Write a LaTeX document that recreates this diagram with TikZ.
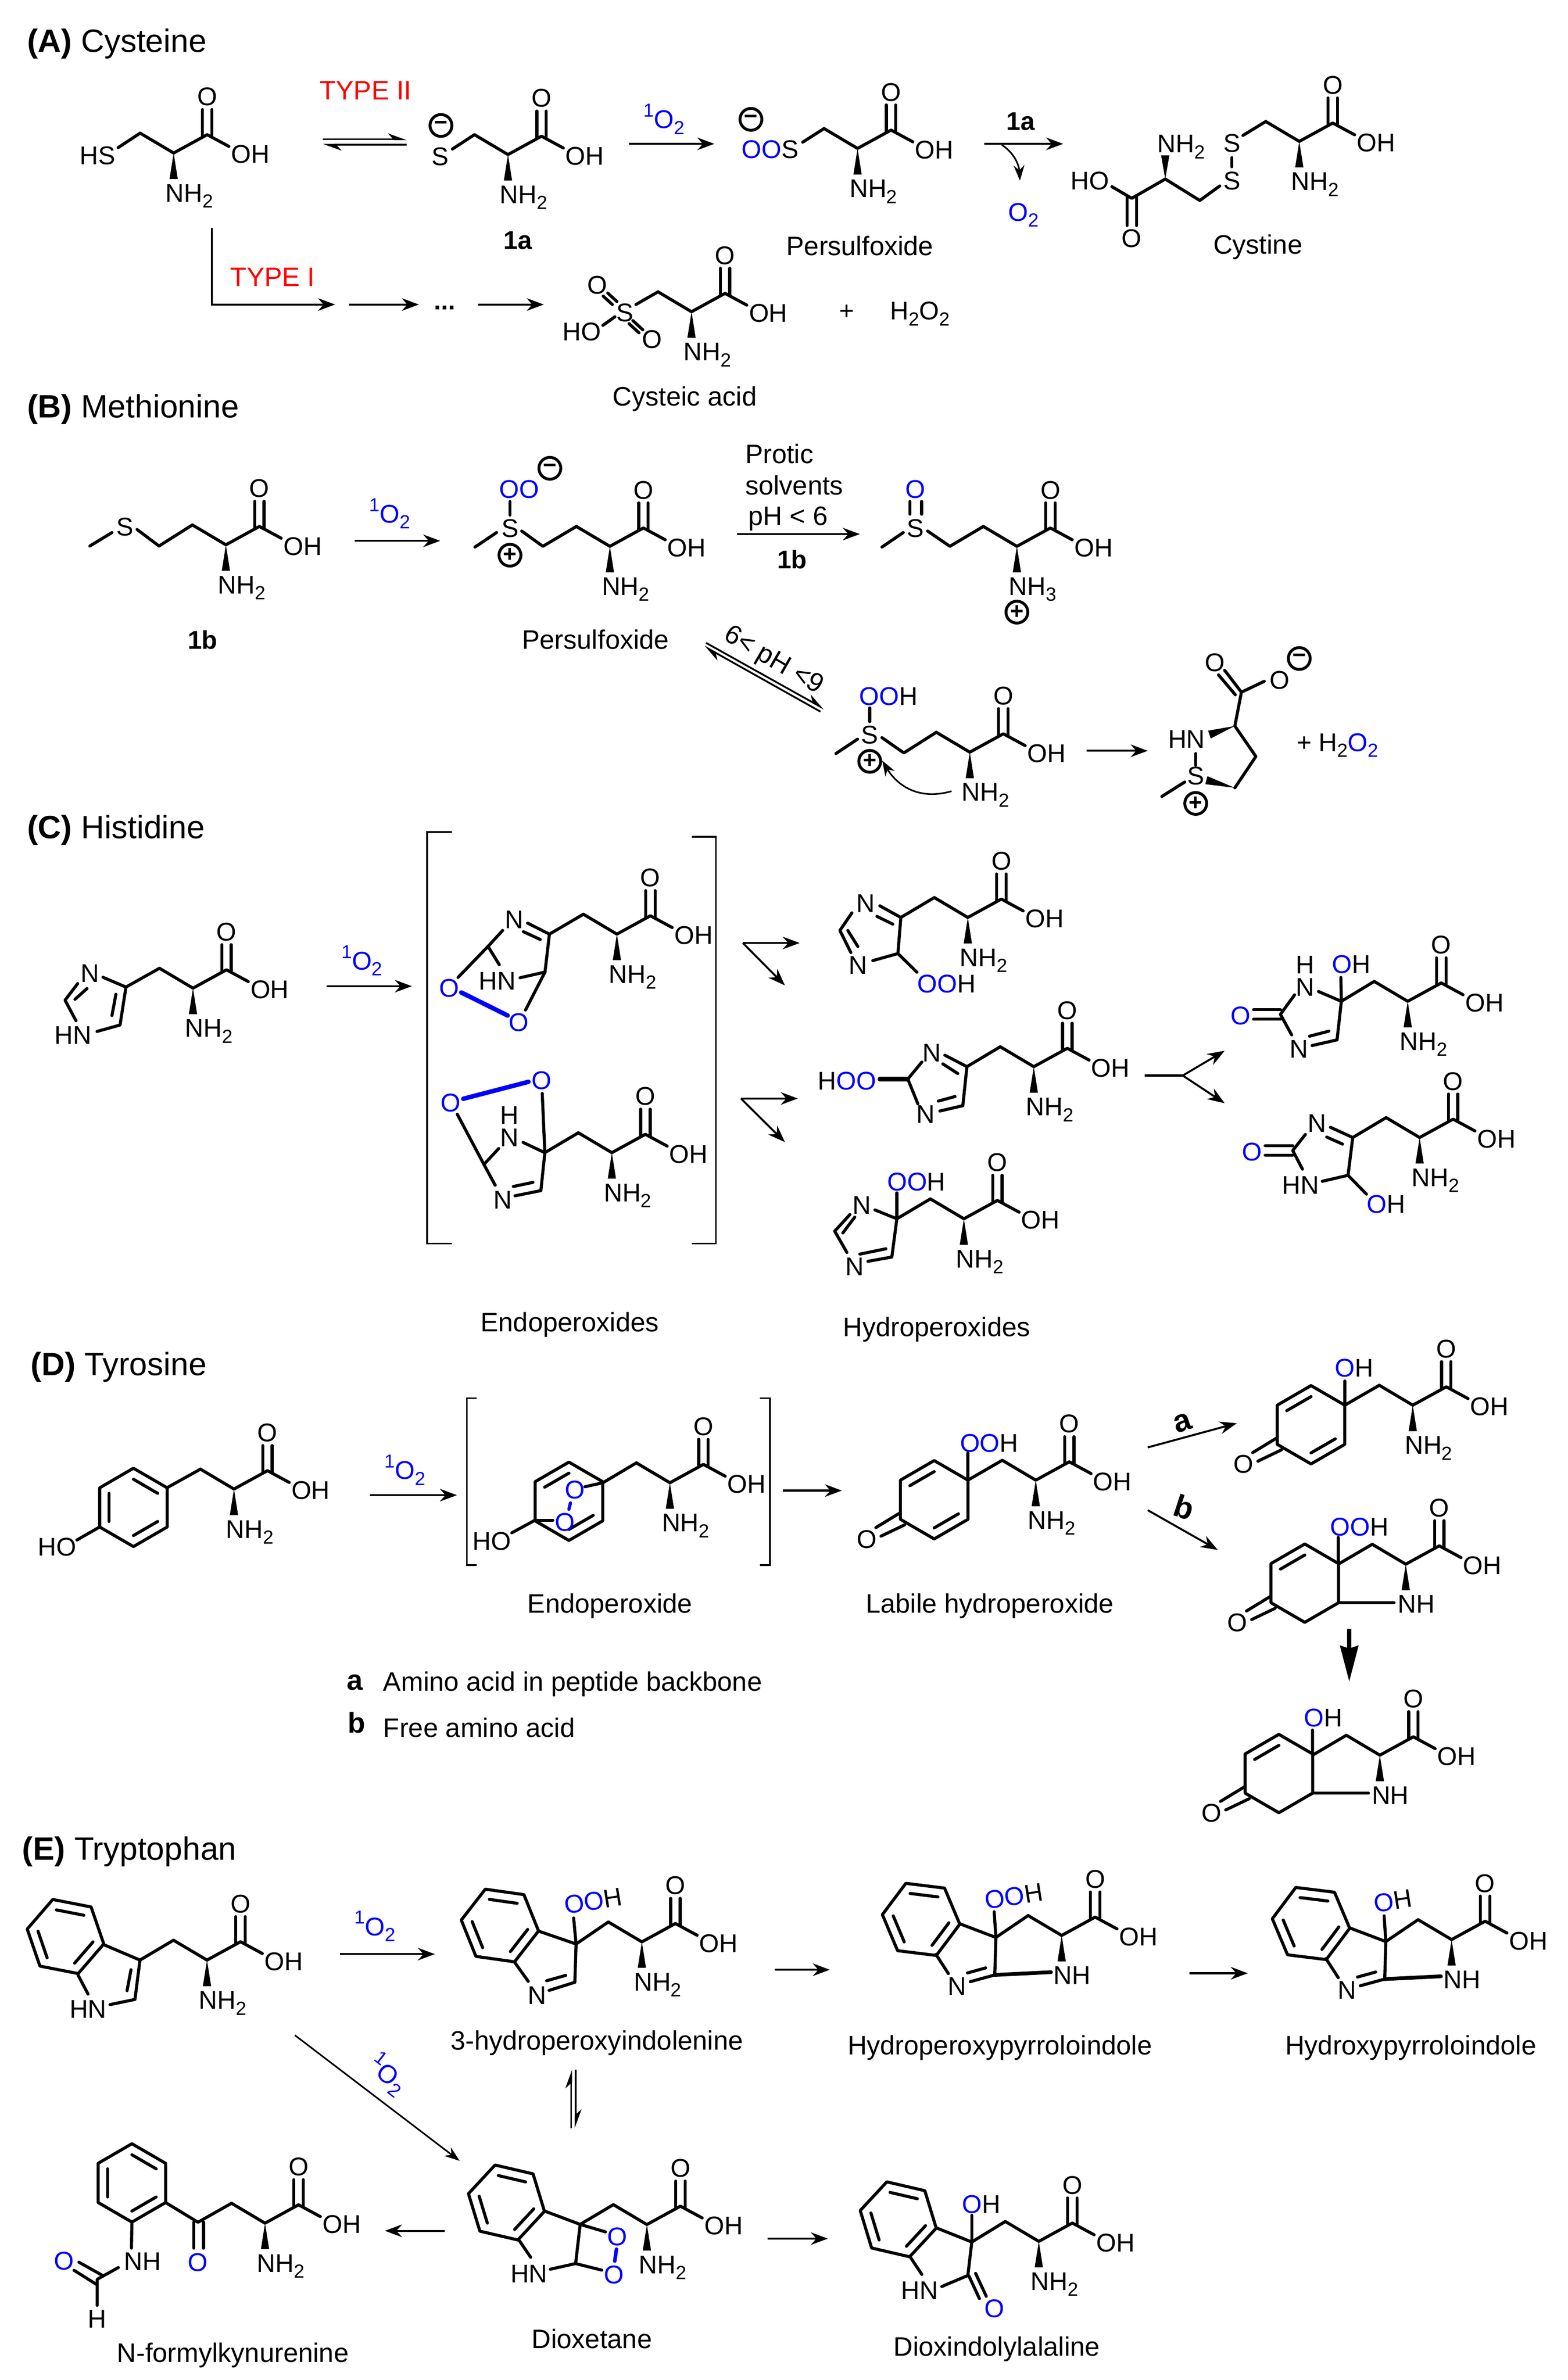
\documentclass[tikz,border=0pt]{standalone}
\usepackage{fontspec}
\setmainfont{Liberation Sans}
\usetikzlibrary{arrows.meta,calc}

\definecolor{oxy}{RGB}{0,0,255}
\newcommand{\ob}[1]{\textcolor{oxy}{#1}}
\newcommand{\subs}[1]{\raisebox{-.23em}{\fontsize{10.6}{12}\selectfont #1}}
\newcommand{\sing}{\ob{\raisebox{.45em}{\fontsize{10.5}{12}\selectfont 1}O\subs{2}}}

\tikzset{
  bond/.style={line width=1.7pt,line cap=round,line join=round},
  obond/.style={line width=2.5pt,line cap=round,color=oxy},
  brk/.style={line width=1pt},
  rxn/.style={line width=1.1pt,-{Stealth[length=9.5pt,width=7pt]}},
  thinrxn/.style={line width=.9pt,-{Stealth[length=8.5pt,width=6pt]}},
  harp/.style={line width=1pt,-{Stealth[length=9pt,width=6.5pt,harpoon]}},
  atom/.style={inner sep=0pt,text height=10.2pt,text depth=0pt,font=\fontsize{14.3}{16}\selectfont},
  boldatom/.style={atom,font=\fontsize{14.3}{16}\bfseries\selectfont},
  molname/.style={inner sep=0pt,text height=10.6pt,text depth=0pt,font=\fontsize{14.9}{17}\selectfont},
  head/.style={inner sep=0pt,anchor=west,text height=12.8pt,text depth=0pt,font=\fontsize{18}{20}\selectfont},
  charge/.style={circle,draw,inner sep=0pt,minimum size=12.2pt,line width=1.6pt,font=\fontsize{13}{13}\bfseries\selectfont},
}

% narrow end first
\newcommand{\stereo}[2]{\fill (#1) -- ($(#2)!2.3pt!90:(#1)$) -- ($(#2)!2.3pt!-90:(#1)$) -- cycle;}

% amino acid tail, placed at the alpha carbon
\newcommand{\aacid}[4][NH\subs{2}]{%
  \begin{scope}[shift={(#3,#4)}]
    \coordinate (#2) at (0,0);
    \coordinate (#2b) at (-22,-13);
    \coordinate (#2c) at (22,-12);
    \draw[bond] (#2b) -- (#2) -- (#2c) -- (36.3,-4.3);
    \draw[bond] (18.9,-28.4) -- (18.9,-11);
    \draw[bond] (25.1,-28.4) -- (25.1,-11);
    \stereo{0,0}{0,17}
    \node[atom] (#2o) at (22,-37) {O};
    \node[atom,anchor=west] (#2oh) at (37.5,.7) {OH};
    \node[atom,anchor=west] (#2n) at (-5.5,26) {#1};
  \end{scope}}

% six-membered ring: centre, first vertex angle, inner double bonds
\newcommand{\hexring}[4]{%
  \begin{scope}[shift={(#1,#2)}]
    \draw[bond] (#3:25.6) \foreach \k in {1,...,5} { -- ({#3+\k*60}:25.6)} -- cycle;
    \foreach \k in {#4} {\draw[bond] ({#3+\k*60}:18.4) -- ({#3+\k*60+60}:18.4);}
  \end{scope}}

% same ring with the ketone at the lower left
\newcommand{\ketring}[4]{%
  \hexring{#2}{#3}{-90}{#4}
  \begin{scope}[shift={(#2,#3)}]
    \draw[bond] (-22.3,8.5) -- (-38.3,18.2);
    \draw[bond] (-19.4,16.4) -- (-34.9,23.8);
    \node[atom] (#1) at (-44.2,25.6) {O};
  \end{scope}}

% fused indole of panel E
\newcommand{\pyrrolo}[3]{%
  \begin{scope}[shift={(#2,#3)}]
    \hexring{604.7}{1254.2}{-113}{0,2,4}
    \aacid[NH]{#1}{697}{1264.7}
    \draw[bond] (#1b) -- (653.8,1266) -- (630.2,1257.1);
    \draw[bond] (614.5,1277.1) -- (622.6,1289.6);
    \node[atom] (#1r) at (628.4,1297.6) {N};
    \draw[bond] (637,1294.9) -- (653.1,1290.5) -- (653.8,1266) -- (652.7,1249.2);
    \draw[bond] (635.2,1289.2) -- (647.1,1285.9);
    \draw[bond,line width=2.1pt] (653.1,1290.5) -- (690,1288.7);
  \end{scope}}

\begin{document}
\begin{tikzpicture}[x=.2985mm,y=-.3mm]
\useasboundingbox (0,0) rectangle (1029.15,1555.2);

% (A) Cysteine
\node[head] (heada) at (17.7,26.5) {\textbf{(A)} Cysteine};
\aacid{aa}{114}{100}
\draw[bond] (aab) -- (77.5,96.5);
\node[atom] (aas) at (64,101.5) {HS};

\aacid{ab}{333.5}{101}
\draw[bond] (abb) -- (297,97.4);
\node[atom] (abs) at (289,102) {S};
\node[charge] (abm) at (289.5,82) {−};
\node[boldatom] (abl) at (340,157) {1a};

\aacid{ac}{563}{97}
\draw[bond] (acb) -- (527,92.9);
\node[atom,anchor=east] (acs) at (524.5,97.4) {\ob{OO}S};
\node[charge] (acm) at (493,78) {−};
\node[molname] (acl) at (564.5,160.8) {Persulfoxide};

\aacid{ad}{853}{92.4}
\draw[bond] (adb) -- (816,88.5);
\node[atom] (ads) at (808.7,93.3) {S};
\node[atom] (adt) at (808.7,118) {S};
\draw[bond] (808.7,103) -- (808.7,109);
\draw[bond] (800.8,121.5) -- (787.7,131) -- (765,117) -- (743,129.6) -- (730,122);
\draw[bond] (739.9,128.5) -- (739.9,147.4);
\draw[bond] (746.1,128.5) -- (746.1,147.4);
\stereo{765,117}{765,101.5}
\node[atom,anchor=west] (adn) at (759.5,93.8) {NH\subs{2}};
\node[atom] (adh) at (715.5,118) {HO};
\node[atom] (adp) at (743,155.5) {O};
\node[molname] (adl) at (825.8,159.6) {Cystine};

\aacid{ae}{454}{203.7}
\draw[bond] (aeb) -- (417.5,199);
\node[atom] (aes) at (410.3,204) {S};
\node[atom] (aep) at (392,186) {O};
\node[atom] (aeq) at (428,221.6) {O};
\node[atom] (aeh) at (382,216.5) {HO};
\draw[bond] (396,193.5) -- (402,199);
\draw[bond] (399,191.5) -- (405,197);
\draw[bond] (415.5,209.5) -- (422,215.5);
\draw[bond] (413,211.5) -- (419.5,217.5);
\draw[bond] (403.7,207) -- (395.8,212.6);
\node[molname] (ael) at (449.6,259) {Cysteic acid};
\node[atom] (aep2) at (556,203) {+};
\node[atom] (aew) at (604,203) {H\subs{2}O\subs{2}};

\coordinate (p1) at (212,91); \coordinate (q1) at (267,91); \draw[harp] (p1) -- (q1);
\coordinate (p2) at (267,94.6); \coordinate (q2) at (212,94.6); \draw[harp] (p2) -- (q2);
\node[molname,text=red] (t2) at (240,59) {TYPE II};
\coordinate (p3) at (413,94); \coordinate (q3) at (469,94); \draw[rxn] (p3) -- (q3);
\node[atom] (s1) at (436,78) {\sing};
\coordinate (p4) at (646,94); \coordinate (q4) at (698,94); \draw[rxn] (p4) -- (q4);
\node[boldatom] (l1a) at (670,79) {1a};
\coordinate (p5) at (657.7,94.7); \coordinate (q5) at (669.6,118);
\draw[thinrxn] (p5) .. controls (666,100) and (669,108) .. (q5);
\node[atom] (o2a) at (672,138.5) {\ob{O\subs{2}}};
\coordinate (p6) at (139,149); \coordinate (q6) at (220,199); \draw[rxn] (p6) |- (q6);
\node[molname,text=red] (t1) at (179,181) {TYPE I};
\coordinate (p7) at (229,199); \coordinate (q7) at (275,199); \draw[rxn] (p7) -- (q7);
\node[boldatom] (dots) at (292,196.5) {...};
\coordinate (p8) at (314,199); \coordinate (q8) at (357,199); \draw[rxn] (p8) -- (q8);

% (B) Methionine
\node[head] (headb) at (17.7,265.4) {\textbf{(B)} Methionine};
\aacid{ba}{148.3}{356}
\draw[bond] (bab) -- (104.4,356.8) -- (90,346);
\draw[bond] (73.5,348) -- (59,356.8);
\node[atom] (bas) at (82,344) {S};
\node[boldatom] (bal) at (133,418) {1b};

\aacid{bb}{400.4}{357}
\draw[bond] (bbb) -- (356.4,357) -- (342.5,347);
\draw[bond] (326,348) -- (311.8,357.5);
\node[atom] (bbs) at (334.8,345) {S};
\draw[bond] (334.8,327.7) -- (334.8,336.6);
\node[atom] (bbp) at (341,319.5) {\ob{OO}};
\node[charge] (bbm) at (361,306) {−};
\node[charge] (bbq) at (334.8,362.8) {+};
\node[molname] (bbl) at (391,418) {Persulfoxide};

\aacid[NH\subs{3}]{bc}{667.6}{357}
\draw[bond] (bcb) -- (623.6,357) -- (609,347);
\draw[bond] (593,348) -- (579,357.5);
\node[atom] (bcs) at (601,345) {S};
\draw[bond] (597.3,327.7) -- (597.3,336);
\draw[bond] (605,327.7) -- (605,336);
\node[atom] (bcp) at (601,319.5) {\ob{O}};
\node[charge] (bcq) at (667.6,400) {+};

\aacid{bd}{636.7}{491.5}
\draw[bond] (bdb) -- (593.4,492) -- (579,482);
\draw[bond] (563,483) -- (548.8,492.4);
\node[atom] (bds) at (571,480) {S};
\draw[bond] (571,462.6) -- (571,471.5);
\node[atom,anchor=west] (bdp) at (564,454.8) {\ob{OO}H};
\node[charge] (bdq) at (571,497.5) {+};

\coordinate (p9) at (233,353.4); \coordinate (q9) at (289,353.4); \draw[rxn] (p9) -- (q9);
\node[atom] (s2) at (256,335.7) {\sing};
\node[molname,anchor=west] (bp1) at (489,296.5) {Protic};
\node[molname,anchor=west] (bp2) at (489,317) {solvents};
\node[molname,anchor=west] (bp3) at (491,337) {pH < 6};
\coordinate (p10) at (484,349); \coordinate (q10) at (564.5,349); \draw[rxn] (p10) -- (q10);
\node[boldatom] (bp4) at (520,365.6) {1b};
\coordinate (p11) at (463.6,420.1); \coordinate (q11) at (541.1,463.2); \draw[harp] (p11) -- (q11);
\coordinate (p12) at (538.6,465); \coordinate (q12) at (462.2,422.3); \draw[harp] (p12) -- (q12);
\node[molname,rotate=-30] (bph) at (508.6,430.3) {6< pH <9};
\coordinate (p13) at (624.7,517); \coordinate (q13) at (579.2,497);
\draw[thinrxn] (p13) .. controls (600,524) and (587,510) .. (q13);
\coordinate (p14) at (713.5,490.6); \coordinate (q14) at (753.5,490.6); \draw[rxn] (p14) -- (q14);

% ring product of (B)
\node[atom] (brn) at (779,482.8) {HN};
\node[atom] (brs) at (785,506.8) {S};
\draw[bond] (785,492.4) -- (785,500);
\draw[bond] (777.8,511) -- (762.8,520.4);
\stereo{810.7,474.4}{794,480}
\draw[bond] (815,452.3) -- (810.7,474.4) -- (824.5,494.3) -- (810.7,514.8);
\stereo{810.7,514.8}{792,509.8}
\draw[bond] (815,452.3) -- (830,445.2);
\draw[bond] (815,452.3) -- (804,438);
\draw[bond] (811,454) -- (800,441);
\node[atom] (brp) at (797.5,432.7) {O};
\node[atom] (brq) at (840,444.3) {O};
\node[charge] (brm) at (853,430.3) {−};
\node[charge] (brc) at (785,525) {+};
\node[atom,anchor=west] (brw) at (851,485) {+ H\subs{2}\ob{O\subs{2}}};

% (C) Histidine
\node[head] (headc) at (17.7,540.4) {\textbf{(C)} Histidine};
\aacid{ca}{126.7}{645.7}
\draw[bond] (cab) -- (82.7,645) -- (67.6,638.6);
\node[atom] (can) at (59,635.8) {N};
\draw[bond] (51,642.7) -- (42.7,653.6) -- (49.9,667);
\draw[bond] (57.1,646) -- (49.2,653);
\node[atom] (cah) at (47.9,676.2) {HN};
\draw[bond] (63.7,674) -- (78.8,669.8) -- (82.7,645);
\draw[bond] (73.5,663.6) -- (76.1,649.7);
\coordinate (p15) at (214.6,644.4); \coordinate (q15) at (270.4,644.4); \draw[rxn] (p15) -- (q15);
\node[atom] (s3) at (237.6,627.7) {\sing};

\draw[brk] (296.7,543.8) -- (280.3,543.8) -- (280.3,812.6) -- (296.7,812.6);
\draw[brk] (454.2,546.8) -- (470,546.8) -- (470,812.6) -- (454.2,812.6);

\aacid{cb}{405}{610.4}
\draw[bond] (cbb) -- (360.7,610.4) -- (346.4,603.2);
\draw[bond] (343.6,608.8) -- (354.7,613.9);
\node[atom] (cbn) at (337.6,600.8) {N};
\draw[bond] (330,608) -- (320.4,618.4) -- (300.7,638.7);
\draw[bond] (320.4,618.4) -- (327.8,630.4);
\node[atom] (cbh) at (326.4,640.8) {HN};
\draw[bond] (341.4,638.9) -- (357.8,635.2) -- (360.7,610.4);
\draw[bond] (357.8,635.2) -- (345,660);
\node[atom] (cbp) at (295,645.6) {\ob{O}};
\node[atom] (cbq) at (340.7,668) {\ob{O}};
\draw[obond] (302.8,648.5) -- (333.3,663.6);

\aacid{cc}{401.7}{753.2}
\draw[bond] (ccb) -- (357.7,753.2) -- (356,714.5);
\node[atom] (ccp) at (355.5,705.7) {\ob{O}};
\node[atom] (ccq) at (295.8,720.4) {\ob{O}};
\draw[obond] (304.1,718) -- (347,706.9);
\draw[bond] (300.2,728.1) -- (317.7,760.9) -- (325.1,774.5);
\draw[bond] (317.7,760.9) -- (327.4,750.5);
\node[atom] (cch) at (334.5,728.6) {H};
\node[atom] (ccn) at (334.5,743.3) {N};
\draw[bond] (357.7,753.2) -- (343.4,746.5);
\node[atom] (ccm) at (330.1,783.8) {N};
\draw[bond] (338.1,781.4) -- (355.1,778) -- (357.7,753.2);
\draw[bond] (337,775.3) -- (349.9,772.6);
\node[molname] (ccl) at (374,864) {Endoperoxides};

\coordinate (p16) at (487.7,616.2); \coordinate (q16) at (525,616.2); \coordinate (r16) at (515.3,643.9);
\draw[rxn] (p16) -- (q16); \draw[rxn] (p16) -- (r16);
\coordinate (p17) at (486.4,717.8); \coordinate (q17) at (523.8,717.8); \coordinate (r17) at (515.3,746.3);
\draw[rxn] (p17) -- (q17); \draw[rxn] (p17) -- (r17);

\aacid{cd}{635.4}{599.5}
\draw[bond] (cdb) -- (591.4,599.5) -- (577.6,591.9);
\draw[bond] (575.7,598.8) -- (586.2,603.9);
\node[atom] (cdn) at (568.4,590) {N};
\draw[bond] (559.3,596.5) -- (551.4,608) -- (558.6,622.4);
\draw[bond] (556.6,608) -- (563.2,618.5);
\node[atom] (cdm) at (563.2,630.7) {N};
\draw[bond] (573,627.7) -- (589.5,623.1) -- (591.4,599.5);
\draw[bond] (589.5,623.1) -- (602,635.3);
\node[atom,anchor=west] (cdh) at (602,642.7) {\ob{OO}H};

\aacid{ce}{678.7}{697}
\draw[bond] (ceb) -- (634.8,697) -- (620.3,689.5);
\draw[bond] (619,695.2) -- (628.8,701.5);
\node[atom] (cen) at (611.8,687.8) {N};
\draw[bond] (605.2,694) -- (596,705.1) -- (602.6,721.3);
\draw[obond,black] (596,705.1) -- (577.6,705.1);
\node[atom,anchor=east] (ceh) at (575.5,706) {H\ob{OO}};
\node[atom] (cem) at (607.8,727.8) {N};
\draw[bond] (617,726) -- (632.1,722.5) -- (634.8,697);
\draw[bond] (616,719.5) -- (627,716.5);

\aacid{cf}{632.8}{796.4}
\draw[bond] (cfb) -- (588.8,796.4) -- (574.4,790.6);
\draw[bond] (588.8,796.4) -- (588.8,779.5);
\node[atom,anchor=west] (cfh) at (582.2,772.1) {\ob{OO}H};
\node[atom] (cfn) at (565.8,787.2) {N};
\draw[bond] (558,793.6) -- (548,804.5) -- (556,818.4);
\draw[bond] (561.2,795.3) -- (553.3,805.7);
\node[atom] (cfm) at (561.2,827.6) {N};
\draw[bond] (569.8,824.2) -- (585.5,821.4) -- (588.8,796.4);
\draw[bond] (564.5,819.5) -- (581.6,816);
\node[molname] (cfl) at (615,867) {Hydroperoxides};

\coordinate (p18) at (751.6,702.8); \coordinate (m18) at (776.5,702.8);
\coordinate (q18) at (804,686.6); \coordinate (r18) at (804,720.9);
\draw[line width=1.1pt] (p18) -- (m18);
\draw[rxn] (m18) -- (q18); \draw[rxn] (m18) -- (r18);

\aacid{cg}{924.2}{654.3}
\draw[bond] (cgb) -- (880.6,654.3) -- (865.6,647.9);
\draw[bond] (880.6,654.3) -- (880.3,638.7);
\node[atom,anchor=west] (cgh) at (874.2,630) {\ob{O}H};
\node[atom] (cgi) at (856.8,630.1) {H};
\node[atom] (cgn) at (856.8,645) {N};
\draw[bond] (849.9,650.1) -- (840.6,662.8) -- (848,676.3);
\draw[bond] (823,659.7) -- (840.6,659.7);
\draw[bond] (823,666) -- (840.6,666);
\node[atom] (cgp) at (814.5,663.5) {\ob{O}};
\node[atom] (cgm) at (852.8,685.2) {N};
\draw[bond] (861.4,683.2) -- (877.8,679.5) -- (880.6,654.3);
\draw[bond] (859.7,677.1) -- (872.4,673.8);

\aacid{ch}{932}{743.3}
\draw[bond] (chb) -- (888.1,743.3) -- (873.4,736.6);
\draw[bond] (871,743) -- (881.4,747.6);
\node[atom] (chn) at (864.6,733.8) {N};
\draw[bond] (857,741.3) -- (848.7,751.8) -- (855.1,764);
\draw[bond] (830.6,748.6) -- (848.7,748.6);
\draw[bond] (830.6,754.8) -- (848.7,754.8);
\node[atom] (chp) at (821.9,752.5) {\ob{O}};
\node[atom] (chm) at (853.8,774.2) {HN};
\draw[bond] (868.1,771.9) -- (885,768) -- (888.1,743.3);
\draw[bond] (885,768) -- (897.1,780.3);
\node[atom,anchor=west] (chh) at (897.2,786.8) {\ob{O}H};

% (D) Tyrosine
\node[head] (headd) at (20,891.2) {\textbf{(D)} Tyrosine};
\hexring{87.6}{985}{-90}{0,2,4}
\aacid{da}{153.6}{973}
\draw[bond] (dab) -- (109.9,972);
\draw[bond] (65.4,997.8) -- (50.5,1006.3);
\node[atom] (dah) at (37.4,1010.8) {HO};
\coordinate (p19) at (243,977); \coordinate (q19) at (300,977); \draw[rxn] (p19) -- (q19);
\node[atom] (s4) at (265.8,960.7) {\sing};

\draw[brk] (313,913.7) -- (306.5,913.7) -- (306.5,1022.6) -- (313,1022.6);
\draw[brk] (499,913.7) -- (505.4,913.7) -- (505.4,1022.6) -- (499,1022.6);
\hexring{373.5}{981}{-90}{5,2}
\aacid{db}{439.8}{968.9}
\draw[bond] (dbb) -- (395.8,968.9) -- (384,971.5);
\node[atom] (dbp) at (377.4,973.4) {\ob{O}};
\node[atom] (dbq) at (370.9,994.4) {\ob{O}};
\draw[obond,line width=1.8pt] (374.5,982.1) -- (373.5,986.2);
\draw[bond] (351.2,993.4) -- (363,993.4);
\draw[bond] (351.2,993.4) -- (336,1001.6);
\node[atom] (dbh) at (323,1007) {HO};
\node[molname] (dbl) at (400.4,1047.6) {Endoperoxide};

\coordinate (p20) at (514,974); \coordinate (q20) at (552.7,974); \draw[rxn] (p20) -- (q20);
\ketring{dcq}{613.3}{980}{5,2}
\aacid{dc}{680}{967.2}
\draw[bond] (dcb) -- (635.4,967.2) -- (635.4,949.4);
\node[atom,anchor=west] (dch) at (630,942.9) {\ob{OO}H};
\node[molname] (dcl) at (649.8,1047.6) {Labile hydroperoxide};

\coordinate (p21) at (753.5,945.8); \coordinate (q21) at (812,930); \draw[rxn] (p21) -- (q21);
\node[molname,font=\fontsize{17.5}{20}\bfseries\selectfont,rotate=18] (lda) at (776,929) {a};
\coordinate (p22) at (753.5,986.8); \coordinate (q22) at (799.5,1012.8); \draw[rxn] (p22) -- (q22);
\node[molname,font=\fontsize{17.5}{20}\bfseries\selectfont,rotate=-18] (ldb) at (777,986) {b};

\ketring{ddq}{860.7}{931}{5,2}
\aacid{dd}{927.5}{918.2}
\draw[bond] (ddb) -- (882.9,918.2) -- (882.9,902.4);
\node[atom,anchor=west] (ddh) at (876.3,893.8) {\ob{O}H};

\ketring{deq}{856.6}{1034.5}{5}
\aacid[NH]{de}{922.9}{1022.1}
\draw[bond] (deb) -- (878.6,1022.1) -- (878.6,1004.6);
\node[atom,anchor=west] (deh) at (873,997.5) {\ob{OO}H};
\draw[bond] (878.9,1047.3) -- (915.2,1047.3);

\coordinate (p23) at (885.8,1064.4); \coordinate (q23) at (885.8,1098.9);
\draw[line width=2.4pt,-{Stealth[length=20pt,width=10pt,inset=1.5pt]}] (p23) -- (q23);

\ketring{dfq}{839.6}{1158.9}{5}
\aacid[NH]{df}{905.9}{1146.9}
\draw[bond] (dfb) -- (861.7,1146.9) -- (861.7,1130.5);
\node[atom,anchor=west] (dfh) at (855.8,1122.2) {\ob{O}H};
\draw[bond] (861.9,1171.7) -- (898.4,1171.7);

\node[molname,font=\fontsize{16}{18}\bfseries\selectfont] (lga) at (233,1098) {a};
\node[molname,anchor=west] (lgb) at (251.4,1098.7) {Amino acid in peptide backbone};
\node[molname,font=\fontsize{16}{18}\bfseries\selectfont] (lgc) at (234,1126) {b};
\node[molname,anchor=west] (lgd) at (251.4,1128.9) {Free amino acid};

% (E) Tryptophan
\node[head] (heade) at (14.4,1208) {\textbf{(E)} Tryptophan};
\hexring{43}{1265.4}{-109}{0,2,4}
\aacid{ea}{135.9}{1280.8}
\draw[bond] (eab) -- (91.9,1280.8) -- (67.8,1270.6);
\draw[bond] (51.2,1290.5) -- (57.8,1303);
\node[atom] (eah) at (57.8,1312.8) {HN};
\draw[bond] (72.2,1309.9) -- (88.6,1306.5) -- (91.9,1280.8);
\draw[bond] (83.4,1300.8) -- (86,1287.1);

\coordinate (p24) at (223.2,1276.9); \coordinate (q24) at (285.5,1276.9); \draw[rxn] (p24) -- (q24);
\node[atom] (s5) at (246.2,1258.7) {\sing};

\hexring{328.2}{1258.2}{-112}{0,2,4}
\aacid{eb}{421.4}{1268.9}
\draw[bond] (ebb) -- (378.2,1270.3) -- (353.4,1261.8);
\draw[bond] (378.2,1270.3) -- (376.6,1253.3);
\node[atom,rotate=9] (ebh) at (389.4,1242) {\ob{OO}H};
\draw[bond] (337.7,1282) -- (346.8,1294.7);
\node[atom] (ebn) at (352.5,1303.5) {N};
\draw[bond] (360.5,1300.6) -- (377.4,1295.3) -- (378.2,1270.3);
\draw[bond] (358.9,1294.3) -- (371.4,1290.8);
\node[molname] (ebl) at (391.9,1333.3) {3-hydroperoxyindolenine};

\coordinate (p25) at (508.7,1287.1); \coordinate (q25) at (544.8,1287.1); \draw[rxn] (p25) -- (q25);
\pyrrolo{ec}{0}{0}
\node[atom,rotate=9] (ech) at (665.5,1238.9) {\ob{OO}H};
\node[molname] (ecl) at (656.4,1336.5) {Hydroperoxypyrroloindole};

\coordinate (p26) at (781,1289.4); \coordinate (q26) at (819.2,1289.4); \draw[rxn] (p26) -- (q26);
\pyrrolo{ed}{256}{2.7}
\node[atom,rotate=9] (edh) at (914.4,1242) {\ob{O}H};
\node[molname] (edl) at (926.2,1336.5) {Hydroxypyrroloindole};

\coordinate (p27) at (375,1390.5); \coordinate (q27) at (375,1352.4); \draw[harp] (p27) -- (q27);
\coordinate (p28) at (377.9,1352.4); \coordinate (q28) at (377.9,1390.5); \draw[harp] (p28) -- (q28);
\coordinate (p29) at (193.6,1329.9); \coordinate (q29) at (301.8,1412); \draw[thinrxn] (p29) -- (q29);
\node[atom,rotate=-38] (s6) at (254.7,1355.4) {\sing};

\hexring{332.5}{1439.2}{-107}{0,2,4}
\aacid{ee}{424.7}{1453.6}
\draw[bond] (eeb) -- (380.9,1453.5) -- (357.6,1444.8);
\draw[bond] (380.9,1453.5) -- (397.5,1458.4);
\draw[bond] (340.4,1463.3) -- (348.4,1475);
\node[atom] (eeh) at (347.3,1485.7) {HN};
\draw[bond] (361.3,1482.8) -- (377.9,1479.1) -- (380.9,1453.5);
\draw[bond] (377.9,1479.1) -- (395.1,1483.4);
\node[atom] (eep) at (405.2,1461.3) {\ob{O}};
\node[atom] (eeq) at (403.1,1486.3) {\ob{O}};
\draw[obond,line width=2pt] (404.7,1469.7) -- (403.6,1477.5);
\node[molname] (eel) at (388.6,1528.3) {Dioxetane};

\coordinate (p30) at (292,1457.7); \coordinate (q30) at (252.7,1457.7); \draw[rxn] (p30) -- (q30);
\coordinate (p31) at (504,1462.8); \coordinate (q31) at (543.5,1462.8); \draw[rxn] (p31) -- (q31);

\hexring{86.6}{1426.4}{-90}{0,2,4}
\aacid{ef}{174}{1452.7}
\draw[bond] (efb) -- (130,1452.1) -- (108.7,1439.2);
\draw[bond] (127.2,1452) -- (127.2,1469);
\draw[bond] (133.6,1452) -- (133.6,1469);
\node[atom] (efp) at (130,1478) {\ob{O}};
\draw[bond] (86.6,1452) -- (86.3,1469);
\node[atom,anchor=west] (efn) at (81.3,1477.6) {NH};
\draw[bond] (77.7,1481.7) -- (63.8,1489.4) -- (63.8,1506.4);
\draw[bond] (67,1486.7) -- (51.8,1478.2);
\draw[bond] (63.8,1493) -- (48.6,1483.5);
\node[atom] (efq) at (42,1477.1) {\ob{O}};
\node[atom] (efh) at (63.8,1515) {H};
\node[molname] (efl) at (152.9,1537.4) {N-formylkynurenine};

\hexring{589.7}{1450.2}{-107}{0,2,4}
\aacid{eg}{682}{1464.6}
\draw[bond] (egb) -- (638,1465) -- (614.8,1455.8);
\draw[bond] (638,1465) -- (638,1447.5);
\node[atom,anchor=west] (egh) at (631.5,1440.2) {\ob{O}H};
\draw[bond] (597.3,1474.4) -- (605.2,1486.2);
\node[atom] (egn) at (603.9,1496.4) {HN};
\draw[bond] (618.3,1494.1) -- (635.4,1486.9) -- (638,1465);
\draw[bond] (636,1487) -- (643,1502);
\draw[bond] (640.5,1485.5) -- (647.5,1500.5);
\node[atom] (egp) at (653,1508.2) {\ob{O}};
\node[molname] (egl) at (654.4,1533.3) {Dioxindolylalaline};

\end{tikzpicture}
\end{document}
